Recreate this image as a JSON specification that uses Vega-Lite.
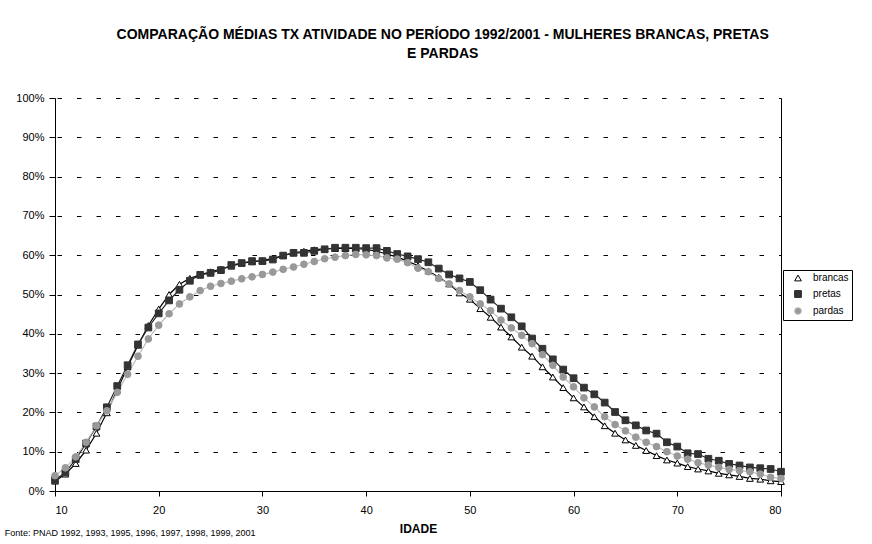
{
  "$schema": "https://vega.github.io/schema/vega-lite/v6.json",
  "background": "white",
  "padding": {"left": 4, "top": 28, "right": 0, "bottom": 0},
  "config": {
    "font": "Liberation Sans",
    "view": {"stroke": null},
    "concat": {"spacing": 0}
  },
  "title": {
    "text": ["COMPARAÇÃO MÉDIAS TX ATIVIDADE NO PERÍODO 1992/2001 - MULHERES BRANCAS, PRETAS", "E PARDAS"],
    "fontSize": 14,
    "fontWeight": "bold",
    "lineHeight": 19,
    "color": "#000000",
    "anchor": "middle",
    "frame": "bounds",
    "offset": 31,
    "dx": 14
  },
  "resolve": {"legend": {"fill": "shared", "shape": "shared", "stroke": "shared", "color": "shared"}},
  "vconcat": [
    {
      "width": 726,
      "height": 393,
      "title": {
        "text": "Fonte: PNAD 1992, 1993, 1995, 1996, 1997, 1998, 1999, 2001",
        "orient": "bottom",
        "anchor": "start",
        "frame": "bounds",
        "fontSize": 9,
        "fontWeight": "normal",
        "color": "#000000",
        "offset": -5
      },
      "data": {
        "values": [
          {"i":10,"s":"brancas","v":2.5},{"i":11,"s":"brancas","v":4.3},{"i":12,"s":"brancas","v":7.0},{"i":13,"s":"brancas","v":10.4},{"i":14,"s":"brancas","v":14.7},{"i":15,"s":"brancas","v":19.9},{"i":16,"s":"brancas","v":25.7},{"i":17,"s":"brancas","v":31.6},{"i":18,"s":"brancas","v":37.1},{"i":19,"s":"brancas","v":42.1},
          {"i":20,"s":"brancas","v":46.3},{"i":21,"s":"brancas","v":50.0},{"i":22,"s":"brancas","v":52.6},{"i":23,"s":"brancas","v":54.1},{"i":24,"s":"brancas","v":55.0},{"i":25,"s":"brancas","v":55.8},{"i":26,"s":"brancas","v":56.5},{"i":27,"s":"brancas","v":57.2},{"i":28,"s":"brancas","v":58.0},{"i":29,"s":"brancas","v":58.3},
          {"i":30,"s":"brancas","v":58.6},{"i":31,"s":"brancas","v":59.2},{"i":32,"s":"brancas","v":59.9},{"i":33,"s":"brancas","v":60.6},{"i":34,"s":"brancas","v":61.0},{"i":35,"s":"brancas","v":61.4},{"i":36,"s":"brancas","v":61.6},{"i":37,"s":"brancas","v":61.7},{"i":38,"s":"brancas","v":61.7},{"i":39,"s":"brancas","v":61.7},
          {"i":40,"s":"brancas","v":61.5},{"i":41,"s":"brancas","v":61.0},{"i":42,"s":"brancas","v":60.3},{"i":43,"s":"brancas","v":59.5},{"i":44,"s":"brancas","v":58.5},{"i":45,"s":"brancas","v":57.3},{"i":46,"s":"brancas","v":56.0},{"i":47,"s":"brancas","v":54.4},{"i":48,"s":"brancas","v":52.7},{"i":49,"s":"brancas","v":50.4},
          {"i":50,"s":"brancas","v":48.8},{"i":51,"s":"brancas","v":46.4},{"i":52,"s":"brancas","v":44.2},{"i":53,"s":"brancas","v":41.7},{"i":54,"s":"brancas","v":39.2},{"i":55,"s":"brancas","v":36.6},{"i":56,"s":"brancas","v":34.3},{"i":57,"s":"brancas","v":31.6},{"i":58,"s":"brancas","v":29.0},{"i":59,"s":"brancas","v":26.3},
          {"i":60,"s":"brancas","v":23.7},{"i":61,"s":"brancas","v":21.4},{"i":62,"s":"brancas","v":18.9},{"i":63,"s":"brancas","v":16.6},{"i":64,"s":"brancas","v":14.7},{"i":65,"s":"brancas","v":13.0},{"i":66,"s":"brancas","v":11.6},{"i":67,"s":"brancas","v":10.3},{"i":68,"s":"brancas","v":9.0},{"i":69,"s":"brancas","v":7.9},
          {"i":70,"s":"brancas","v":7.1},{"i":71,"s":"brancas","v":6.2},{"i":72,"s":"brancas","v":5.6},{"i":73,"s":"brancas","v":5.1},{"i":74,"s":"brancas","v":4.5},{"i":75,"s":"brancas","v":4.1},{"i":76,"s":"brancas","v":3.7},{"i":77,"s":"brancas","v":3.2},{"i":78,"s":"brancas","v":3.0},{"i":79,"s":"brancas","v":2.6},{"i":80,"s":"brancas","v":2.4},
          {"i":10,"s":"pretas","v":2.8},{"i":11,"s":"pretas","v":4.7},{"i":12,"s":"pretas","v":8.1},{"i":13,"s":"pretas","v":12.1},{"i":14,"s":"pretas","v":16.4},{"i":15,"s":"pretas","v":21.3},{"i":16,"s":"pretas","v":26.7},{"i":17,"s":"pretas","v":32.0},{"i":18,"s":"pretas","v":37.3},{"i":19,"s":"pretas","v":41.6},
          {"i":20,"s":"pretas","v":45.2},{"i":21,"s":"pretas","v":48.5},{"i":22,"s":"pretas","v":51.2},{"i":23,"s":"pretas","v":53.5},{"i":24,"s":"pretas","v":55.0},{"i":25,"s":"pretas","v":55.5},{"i":26,"s":"pretas","v":56.2},{"i":27,"s":"pretas","v":57.5},{"i":28,"s":"pretas","v":58.0},{"i":29,"s":"pretas","v":58.5},
          {"i":30,"s":"pretas","v":58.5},{"i":31,"s":"pretas","v":58.9},{"i":32,"s":"pretas","v":59.9},{"i":33,"s":"pretas","v":60.6},{"i":34,"s":"pretas","v":60.6},{"i":35,"s":"pretas","v":61.1},{"i":36,"s":"pretas","v":61.5},{"i":37,"s":"pretas","v":61.9},{"i":38,"s":"pretas","v":61.9},{"i":39,"s":"pretas","v":61.9},
          {"i":40,"s":"pretas","v":61.8},{"i":41,"s":"pretas","v":61.8},{"i":42,"s":"pretas","v":61.1},{"i":43,"s":"pretas","v":60.3},{"i":44,"s":"pretas","v":59.7},{"i":45,"s":"pretas","v":59.0},{"i":46,"s":"pretas","v":58.2},{"i":47,"s":"pretas","v":56.6},{"i":48,"s":"pretas","v":55.1},{"i":49,"s":"pretas","v":54.1},
          {"i":50,"s":"pretas","v":53.2},{"i":51,"s":"pretas","v":51.1},{"i":52,"s":"pretas","v":48.7},{"i":53,"s":"pretas","v":46.4},{"i":54,"s":"pretas","v":44.2},{"i":55,"s":"pretas","v":41.9},{"i":56,"s":"pretas","v":38.8},{"i":57,"s":"pretas","v":36.2},{"i":58,"s":"pretas","v":33.5},{"i":59,"s":"pretas","v":30.9},
          {"i":60,"s":"pretas","v":28.7},{"i":61,"s":"pretas","v":26.3},{"i":62,"s":"pretas","v":24.6},{"i":63,"s":"pretas","v":22.5},{"i":64,"s":"pretas","v":20.1},{"i":65,"s":"pretas","v":18.0},{"i":66,"s":"pretas","v":16.7},{"i":67,"s":"pretas","v":15.4},{"i":68,"s":"pretas","v":14.6},{"i":69,"s":"pretas","v":12.4},
          {"i":70,"s":"pretas","v":11.3},{"i":71,"s":"pretas","v":9.6},{"i":72,"s":"pretas","v":9.4},{"i":73,"s":"pretas","v":8.2},{"i":74,"s":"pretas","v":7.7},{"i":75,"s":"pretas","v":6.9},{"i":76,"s":"pretas","v":6.5},{"i":77,"s":"pretas","v":6.0},{"i":78,"s":"pretas","v":5.8},{"i":79,"s":"pretas","v":5.6},{"i":80,"s":"pretas","v":4.9},
          {"i":10,"s":"pardas","v":3.9},{"i":11,"s":"pardas","v":5.9},{"i":12,"s":"pardas","v":8.7},{"i":13,"s":"pardas","v":12.4},{"i":14,"s":"pardas","v":16.6},{"i":15,"s":"pardas","v":20.4},{"i":16,"s":"pardas","v":25.1},{"i":17,"s":"pardas","v":29.7},{"i":18,"s":"pardas","v":34.3},{"i":19,"s":"pardas","v":38.7},
          {"i":20,"s":"pardas","v":42.2},{"i":21,"s":"pardas","v":45.1},{"i":22,"s":"pardas","v":47.6},{"i":23,"s":"pardas","v":49.4},{"i":24,"s":"pardas","v":51.0},{"i":25,"s":"pardas","v":52.1},{"i":26,"s":"pardas","v":52.8},{"i":27,"s":"pardas","v":53.4},{"i":28,"s":"pardas","v":54.0},{"i":29,"s":"pardas","v":54.5},
          {"i":30,"s":"pardas","v":55.1},{"i":31,"s":"pardas","v":55.7},{"i":32,"s":"pardas","v":56.4},{"i":33,"s":"pardas","v":57.0},{"i":34,"s":"pardas","v":57.7},{"i":35,"s":"pardas","v":58.4},{"i":36,"s":"pardas","v":59.1},{"i":37,"s":"pardas","v":59.5},{"i":38,"s":"pardas","v":59.9},{"i":39,"s":"pardas","v":60.2},
          {"i":40,"s":"pardas","v":60.1},{"i":41,"s":"pardas","v":59.9},{"i":42,"s":"pardas","v":59.3},{"i":43,"s":"pardas","v":59.0},{"i":44,"s":"pardas","v":58.1},{"i":45,"s":"pardas","v":56.7},{"i":46,"s":"pardas","v":55.8},{"i":47,"s":"pardas","v":54.1},{"i":48,"s":"pardas","v":52.7},{"i":49,"s":"pardas","v":51.0},
          {"i":50,"s":"pardas","v":49.4},{"i":51,"s":"pardas","v":47.6},{"i":52,"s":"pardas","v":45.9},{"i":53,"s":"pardas","v":43.5},{"i":54,"s":"pardas","v":41.5},{"i":55,"s":"pardas","v":39.6},{"i":56,"s":"pardas","v":37.5},{"i":57,"s":"pardas","v":34.7},{"i":58,"s":"pardas","v":32.0},{"i":59,"s":"pardas","v":29.0},
          {"i":60,"s":"pardas","v":26.5},{"i":61,"s":"pardas","v":23.7},{"i":62,"s":"pardas","v":21.4},{"i":63,"s":"pardas","v":18.9},{"i":64,"s":"pardas","v":16.9},{"i":65,"s":"pardas","v":15.3},{"i":66,"s":"pardas","v":13.7},{"i":67,"s":"pardas","v":12.4},{"i":68,"s":"pardas","v":11.3},{"i":69,"s":"pardas","v":10.0},
          {"i":70,"s":"pardas","v":8.9},{"i":71,"s":"pardas","v":8.1},{"i":72,"s":"pardas","v":7.2},{"i":73,"s":"pardas","v":6.6},{"i":74,"s":"pardas","v":6.0},{"i":75,"s":"pardas","v":5.5},{"i":76,"s":"pardas","v":5.2},{"i":77,"s":"pardas","v":4.9},{"i":78,"s":"pardas","v":4.3},{"i":79,"s":"pardas","v":3.5},{"i":80,"s":"pardas","v":3.2}
        ]
      },
      "resolve": {"axis": {"y": "independent"}},
      "layer": [
        {
          "mark": {"type": "line", "strokeWidth": 1.2},
          "encoding": {
            "x": {
              "field": "i", "type": "quantitative",
              "scale": {"domain": [10, 80], "nice": false, "zero": false},
              "axis": {
                "values": [10, 20, 30, 40, 50, 60, 70, 80],
                "title": "IDADE", "titleFontSize": 12, "titleFontWeight": "bold", "titleColor": "#000000", "titlePadding": 8,
                "labelFontSize": 11, "labelColor": "#000000", "labelPadding": 8,
                "tickSize": 5, "tickColor": "#000000", "domainColor": "#000000", "grid": false
              }
            },
            "y": {
              "field": "v", "type": "quantitative",
              "scale": {"domain": [0, 100], "nice": false},
              "axis": {
                "values": [0, 10, 20, 30, 40, 50, 60, 70, 80, 90, 100],
                "labelExpr": "datum.value + '%'",
                "title": ".", "titleOpacity": 0, "titleFontSize": 10, "titlePadding": 1,
                "labelFontSize": 11, "labelColor": "#000000", "labelPadding": 5,
                "tickSize": 6, "tickColor": "#000000", "domainColor": "#000000",
                "grid": true, "gridColor": "#000000", "gridDash": [4.5, 15], "gridDashOffset": -2, "gridOpacity": 1
              }
            },
            "color": {
              "field": "s", "type": "nominal",
              "scale": {"domain": ["brancas", "pretas", "pardas"], "range": ["#000000", "#222222", "#bbbbbb"]},
              "legend": {
                "orient": "none", "legendX": 728, "legendY": 172,
                "title": null,
                "strokeColor": "#000000", "fillColor": "#ffffff",
                "padding": 3, "rowPadding": 5,
                "labelFontSize": 10, "labelColor": "#000000", "labelOffset": 10,
                "symbolSize": 45, "symbolOffset": 7, "symbolStrokeWidth": 1
              }
            },
            "detail": {"field": "s"}
          }
        },
        {
          "mark": {"type": "point", "filled": true, "size": 45, "strokeWidth": 1, "opacity": 1},
          "encoding": {
            "x": {"field": "i", "type": "quantitative"},
            "y": {
              "field": "v", "type": "quantitative",
              "axis": {"orient": "right", "labels": false, "ticks": false, "grid": false, "domain": true, "domainColor": "#000000", "title": null}
            },
            "shape": {
              "field": "s", "type": "nominal",
              "scale": {"domain": ["brancas", "pretas", "pardas"], "range": ["triangle-up", "square", "circle"]}
            },
            "stroke": {
              "field": "s", "type": "nominal",
              "scale": {"domain": ["brancas", "pretas", "pardas"], "range": ["#000000", "#333333", "#999999"]}
            },
            "fill": {
              "field": "s", "type": "nominal",
              "scale": {"domain": ["brancas", "pretas", "pardas"], "range": ["#ffffff", "#333333", "#999999"]},
              "legend": {
                "orient": "none", "legendX": 728, "legendY": 172,
                "title": null,
                "strokeColor": "#000000", "fillColor": "#ffffff",
                "padding": 3, "rowPadding": 5,
                "labelFontSize": 10, "labelColor": "#000000", "labelOffset": 10,
                "symbolSize": 45, "symbolOffset": 7, "symbolStrokeWidth": 1
              }
            }
          }
        }
      ]
    }
  ]
}
